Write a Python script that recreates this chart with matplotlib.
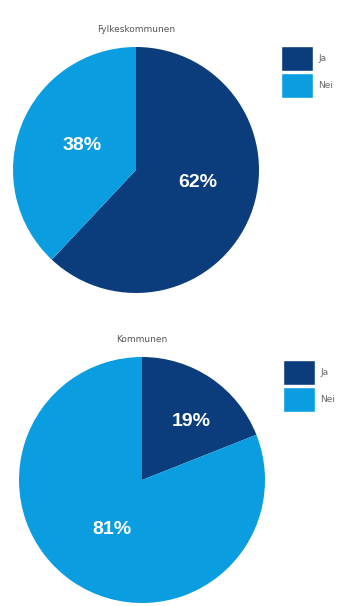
import numpy as np
import matplotlib.pyplot as plt
from matplotlib.patches import Patch

labels = ['Ja', 'Nei']
titles = ['Fylkeskommunen', 'Kommunen']
fylke_values = [62, 38]
kommune_values = [19, 81]
colors = ['#0b3c7b', '#0a9de0']

W, H = 342, 606
fig = plt.figure(figsize=(W / 100, H / 100), dpi=100)


def draw_pie(values, title, cx, cy, r, label_pos, legend_xy):
    ax = fig.add_axes([(cx - r) / W, (H - cy - r) / H, 2 * r / W, 2 * r / H])
    wedges, texts, autotexts = ax.pie(
        values, colors=colors, startangle=90, counterclock=False,
        autopct='%d%%', pctdistance=0.55, radius=1,
        textprops=dict(color='white', fontsize=14, fontweight='bold',
                       family='Liberation Sans'))
    # place each percent label: (distance from centre, angle nudge in degrees)
    for w, t, (d, nudge) in zip(wedges, autotexts, label_pos):
        ang = np.deg2rad((w.theta1 + w.theta2) / 2 + nudge)
        t.set_position((d * np.cos(ang), d * np.sin(ang)))
    ax.set_xlim(-1, 1)
    ax.set_ylim(-1, 1)
    ax.set_title(title, fontsize=6.5, color='#555555', pad=11)
    handles = [Patch(facecolor=c, edgecolor='white') for c in colors]
    fig.legend(handles, labels, loc='upper left',
               bbox_to_anchor=(legend_xy[0] / W, 1 - legend_xy[1] / H),
               frameon=False, fontsize=6.5, labelcolor='#666666',
               handlelength=3.5, handleheight=3.9, labelspacing=0.2,
               handletextpad=0.6, borderaxespad=0, borderpad=0)


draw_pie(fylke_values, titles[0], 136, 170, 123,
         [(0.51, 10), (0.48, -3)], (281, 46))
draw_pie(kommune_values, titles[1], 142, 480, 123,
         [(0.62, -6), (0.47, 3)], (283, 360))

fig.savefig('out.png', dpi=100)
